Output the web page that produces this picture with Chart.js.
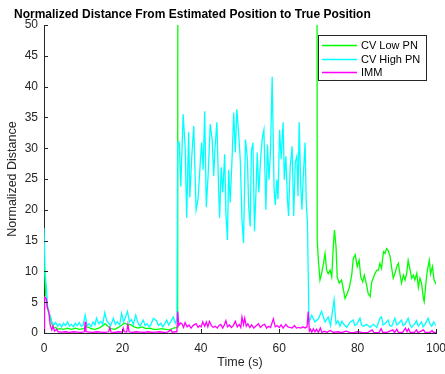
<!DOCTYPE html>
<html>
<head>
<meta charset="utf-8">
<script src="https://cdn.jsdelivr.net/npm/chart.js@4.4.1/dist/chart.umd.min.js"></script>
<style>
  html, body { margin: 0; padding: 0; background: #fff; }
  #wrap { width: 445px; height: 374px; }
</style>
</head>
<body>
<div id="wrap"><canvas id="plot" width="445" height="374"></canvas></div>
<script>
const xTicks = [0, 20, 40, 60, 80, 100]
const yTicks = [0, 5, 10, 15, 20, 25, 30, 35, 40, 45, 50]
const seriesNames = ['CV Low PN', 'CV High PN', 'IMM']
const seriesColors = ['#00ff00', '#00ffff', '#ff00ff']

// CV Low PN (green) - goes off the top of the axes between ~34 s and ~69 s
const tLow = [0,0.4,0.8,1.2,1.6,2,2.5,3,3.5,4,5,6,7,8,9,10,10.5,11.2,12,13,14,15,15.6,16.3,17,18,19,19.7,20.2,20.7,21.4,22,23,24,25,26,27,28,29,30,31,32,33,34.1,34.3,
  69.4,69.7,70,70.4,70.8,71.3,71.7,72.1,72.5,73,73.4,73.8,74.1,74.5,74.8,75.3,75.9,76.4,76.8,77.4,77.9,78.5,78.9,79.4,79.9,80.4,80.8,81.3,81.7,82.3,82.7,83.2,83.6,84,84.4,84.9,85.3,85.7,86.1,86.6,87,87.4,87.8,88.3,88.7,89.1,89.5,90,90.4,90.8,91.2,91.7,92.1,92.5,92.9,93.4,93.8,94.2,94.6,95.1,95.5,95.9,96.3,96.8,97,97.5,97.8,98.3,98.6,99.1,99.5,99.9,100]
const lowPN = [12,6.5,4.2,3.2,2.8,1.5,0.8,0.9,0.6,0.7,0.6,0.8,0.6,0.8,0.6,0.7,0.9,1.0,0.7,0.6,0.8,1.2,1.5,1.1,0.7,0.6,0.9,1.2,1.5,1.6,1.3,1.4,1.0,0.8,1.0,0.7,0.8,0.6,0.6,0.7,0.6,0.5,0.8,0.9,300,
  300,15,11.8,8.6,9.6,11.3,12.9,10.2,9.6,10.2,9.1,14,16.7,14,9.1,8.1,8.6,7.0,5.6,6.5,7.4,9.4,12.1,12.7,10.8,11.8,9.1,8.3,9.4,7.8,6.4,5.9,8.3,8.9,9.6,10.2,10.2,11.3,10.5,13.2,12.9,13.7,13.4,12.4,10.5,8.9,9.6,10.8,11.3,9.6,8.1,9.4,8.6,9.6,11.8,10.2,8.9,9.4,8.6,9.7,7.4,8.9,8.1,5.6,5.1,8.6,10.2,11.8,9.6,10.8,8.6,8.1,8.3]

// CV High PN (cyan)
const tHigh = [0,0.3,0.6,0.9,1.2,1.6,2,2.5,3,3.5,4,4.5,5,5.5,6,6.5,7,7.5,8,8.5,9,9.5,10,10.5,11,11.5,12,12.5,13,13.4,14,14.5,15,15.5,16,16.5,17,17.7,18.2,18.7,19.3,19.8,20.3,20.8,21.3,21.8,22.3,22.8,23.4,24,24.5,25.3,25.8,26.3,26.8,27.3,27.9,28.7,29.2,29.8,30.3,30.8,31.3,31.8,32.3,33,33.5,33.9,
  34.1,34.5,34.9,35.5,36,36.4,36.9,37.2,37.7,38.2,38.8,39.3,39.8,40.2,40.6,41,41.4,41.9,42.4,42.9,43.3,43.6,44.1,44.6,44.8,45.2,45.6,46.1,46.4,46.8,47.1,47.5,48,48.4,48.8,49.2,49.7,50.1,50.5,50.9,51.4,51.9,52.2,52.6,52.9,53.3,53.7,54.1,54.4,54.8,55.3,55.7,56.1,56.6,57,57.4,57.8,58.2,58.7,59,59.4,59.7,60.1,60.5,61,61.3,61.7,62.1,62.4,62.8,63.3,63.7,64.1,64.5,64.8,65.1,65.5,65.8,66.1,66.6,66.9,67.2,67.6,
  68.3,69.1,70,70.8,71.7,72.5,73.1,74,74.5,75,75.5,76,76.4,77.2,78.1,78.9,79.3,79.8,80.6,81,81.5,82.3,83.2,84,84.9,85.7,86.1,86.5,87,87.8,88.2,88.7,89.5,90,90.4,91.2,91.6,92.1,92.9,93.4,93.8,94.6,95,95.5,96.3,96.7,97.2,98,98.5,98.9,99.4,99.7,100]
const highPN = [17.1,9.5,7.5,4.5,3.3,2.6,1.8,1.3,1.7,1.1,1.5,1.0,1.6,1.2,1.8,1.1,1.4,1.0,1.6,1.2,1.7,1.1,1.3,2.9,1.2,1.5,1.0,1.8,1.3,2.4,1.5,1.9,1.4,3.3,2.0,1.6,1.2,2.4,1.4,1.8,1.3,3.2,1.8,2.6,3.5,1.8,2.2,1.4,2.9,1.6,1.1,2.1,1.2,1.5,1.0,1.4,2.4,2.0,1.2,1.6,1.0,1.5,2.1,1.3,1.8,2.6,1.6,2.2,
  31,31,23.8,35.5,30.3,18.7,32.6,22,28.7,33.6,20,21.7,27,30.9,26.5,36,20.4,26,33.9,31.4,25.5,29.8,34.2,22.2,18.7,26.9,22.8,29,19.5,15.1,26.5,21.2,28.7,35.8,29.3,36.3,32,27.7,18.4,14.6,31.4,28.2,20.6,17.3,29.5,30.9,16.5,23.3,29.3,22.8,28.7,31.7,33,20,30.6,24.9,29.8,41.6,23.3,20.8,24.9,21.7,33,28.2,34.2,24.9,28.7,21.7,19,27,30.3,19,27.7,28.7,22.2,34.2,23.8,20,24.9,30.9,21.2,18,1.8,
  2.9,1.8,2.3,3.5,1.8,2.6,1.2,5.4,1.5,2.0,1.1,1.9,1.5,0.9,1.8,2.1,1.2,1.4,2.4,1.3,1.1,1.4,0.9,1.4,0.9,2.4,2.6,1.3,1.5,2.1,1.2,1.1,2.4,1.3,1.5,2.1,1.2,1.4,2.4,1.3,0.9,1.5,2.0,1.1,1.8,1.0,1.4,2.4,1.4,1.1,1.8,1.5,1.2]

// IMM (magenta)
const tImm = [0,0.15,0.6,0.9,1.2,1.6,2,2.3,2.7,3.2,3.6,4.5,5.5,6.5,7.5,8.5,9.5,10.3,10.5,10.7,11.5,12.5,13.5,14.5,15.5,16.5,16.8,17.1,18,19,20,20.2,20.5,21.1,21.4,21.7,22.5,23.5,24.5,25.5,26.5,27.5,28.5,29.5,30.5,31.5,32.4,32.7,33.5,33.9,
  34.1,34.4,34.8,35.2,35.6,36,36.5,37,37.5,38,38.8,39.3,39.7,40.1,40.5,41,41.4,41.8,42.2,42.7,43.2,43.7,44.2,44.6,45.1,45.6,46,46.4,46.8,47.3,47.8,48.3,48.8,49.3,49.8,50.2,50.5,50.9,51.2,51.6,52,52.5,53,53.5,54,54.7,55.2,55.8,56.3,56.8,57.3,57.8,58.5,59,59.5,60,60.5,61,61.7,62.2,62.7,63.3,63.9,64.4,65,65.5,66.1,66.6,67.1,67.4,67.7,
  68,68.3,68.7,69.1,69.5,70,70.5,70.9,71.5,72.2,73,73.8,75,76,77,78,79,80,81,82.5,83.7,84.2,85.5,86,86.4,87.5,89,89.4,90,90.4,91.5,92.2,92.6,93,93.4,94.5,95,95.4,96.8,97.2,98.5,99,99.4,100]
const imm = [0,5.8,5.5,4.0,3.6,1.2,0.5,1.1,0.3,0.6,0.2,0.15,0.2,0.1,0.2,0.15,0.1,0.2,1.8,0.2,0.15,0.1,0.2,0.15,0.1,0.2,0.9,0.15,0.1,0.2,0.15,0.8,0.2,0.15,1.4,0.2,0.1,0.2,0.15,0.1,0.2,0.1,0.15,0.2,0.1,0.15,0.5,0.1,0.2,0.2,
  3.5,1.2,1.6,1.5,0.9,1.7,1.0,1.3,0.8,1.2,1.5,0.9,1.2,1.0,1.8,1.1,1.8,1.0,1.9,1.2,0.9,1.1,0.8,1.2,1.4,0.8,1.3,2.0,1.0,1.3,0.9,1.2,1.9,1.0,1.4,0.9,2.6,1.4,2.4,1.1,1.5,0.9,1.3,0.8,1.1,1.5,0.9,1.3,1.4,0.8,1.1,0.9,2.3,1.0,1.2,0.9,1.3,0.8,1.4,1.0,0.9,0.8,1.2,0.8,0.9,0.8,1.0,0.8,1.0,3.5,0.3,
  0.6,0.1,0.7,0.2,0.6,0.1,0.8,0.1,0.3,0.1,0.4,0.1,0.2,0.05,0.3,0.1,0.05,0.2,0.1,0.05,0.5,0.05,0.1,0.7,0.1,0.1,0.5,0.05,0.6,0.1,0.1,0.8,0.2,0.7,0.1,0.1,0.5,0.05,0.5,0.1,0.1,0.4,0.05,0.1]

const pts = (t, v) => t.map((x, i) => ({ x: x, y: v[i] }))
const axisColor = '#262626'
const fontFam = '"Liberation Sans", Arial, Helvetica, sans-serif'
const lineW = 1.3

// inward MATLAB-style tick marks
const tickMarks = {
	id: 'tickMarks',
	afterDraw(chart) {
		const ctx = chart.ctx
		const xs = chart.scales.x, ys = chart.scales.y
		const a = chart.chartArea
		ctx.save()
		ctx.strokeStyle = axisColor
		ctx.lineWidth = 1
		ctx.beginPath()
		xTicks.forEach(v => {
			const px = Math.round(xs.getPixelForValue(v)) + 0.5
			ctx.moveTo(px, a.bottom)
			ctx.lineTo(px, a.bottom - 4)
		})
		yTicks.forEach(v => {
			const py = Math.round(ys.getPixelForValue(v)) + 0.5
			ctx.moveTo(a.left, py)
			ctx.lineTo(a.left + 4, py)
		})
		ctx.stroke()
		ctx.restore()
	}
}

// title + boxed legend in the upper right
const decorations = {
	id: 'decorations',
	afterDraw(chart) {
		const ctx = chart.ctx
		ctx.save()
		ctx.fillStyle = '#000'
		ctx.font = 'bold 12px ' + fontFam
		ctx.textAlign = 'left'
		ctx.textBaseline = 'alphabetic'
		ctx.fillText('Normalized Distance From Estimated Position to True Position', 14, 18)

		const bx = 318.5, by = 35.5, bw = 108, bh = 45
		ctx.fillStyle = '#fff'
		ctx.fillRect(bx, by, bw, bh)
		ctx.lineWidth = 1
		ctx.strokeStyle = axisColor
		ctx.strokeRect(bx, by, bw, bh)
		ctx.font = '11px ' + fontFam
		ctx.textBaseline = 'middle'
		seriesNames.forEach((name, i) => {
			const y = Math.round(45 + i * 13.5) + 0.5
			ctx.lineWidth = lineW
			ctx.strokeStyle = seriesColors[i]
			ctx.beginPath()
			ctx.moveTo(322, y)
			ctx.lineTo(357, y)
			ctx.stroke()
			ctx.fillStyle = '#000'
			ctx.fillText(name, 361, y)
		})
		ctx.restore()
	}
}

const context = document.getElementById('plot').getContext('2d')

const myChart = new Chart(context, {
	type: 'line',
	data: {
		datasets: [{
			label: seriesNames[0],
			data: pts(tLow, lowPN),
			borderColor: seriesColors[0],
			borderWidth: lineW,
			order: 2
		}, {
			label: seriesNames[1],
			data: pts(tHigh, highPN),
			borderColor: seriesColors[1],
			borderWidth: lineW,
			order: 1
		}, {
			label: seriesNames[2],
			data: pts(tImm, imm),
			borderColor: seriesColors[2],
			borderWidth: lineW,
			order: 0
		}]
	},
	options: {
		responsive: false,
		animation: false,
		events: [],
		elements: { point: { radius: 0 }, line: { tension: 0, fill: false } },
		layout: { padding: { top: 25, right: 9, left: 0, bottom: 0 } },
		plugins: { legend: { display: false }, title: { display: false }, tooltip: { enabled: false } },
		scales: {
			x: {
				type: 'linear',
				position: 'bottom',
				min: 0,
				max: 100,
				afterBuildTicks: s => { s.ticks = xTicks.map(v => ({ value: v })) },
				afterFit: s => { s.height = 41; s.paddingLeft = 0; s.paddingRight = 0 },
				grid: { display: false, drawTicks: false },
				border: { display: true, color: axisColor, width: 1 },
				ticks: { padding: 8, color: axisColor, font: { family: fontFam, size: 12 }, maxRotation: 0 },
				title: { display: true, text: 'Time (s)', color: axisColor, font: { family: fontFam, size: 12.5 }, padding: { top: 0, bottom: 4 } }
			},
			y: {
				type: 'linear',
				position: 'left',
				min: 0,
				max: 50,
				afterBuildTicks: s => { s.ticks = yTicks.map(v => ({ value: v })) },
				afterFit: s => { s.width = 44; s.paddingTop = 0; s.paddingBottom = 0 },
				grid: { display: false, drawTicks: false },
				border: { display: true, color: axisColor, width: 1 },
				ticks: { padding: 6, color: axisColor, font: { family: fontFam, size: 12 } },
				title: { display: true, text: 'Normalized Distance', color: axisColor, font: { family: fontFam, size: 12.5 }, padding: { top: 5, bottom: 0 } }
			}
		}
	},
	plugins: [tickMarks, decorations]
})
</script>
</body>
</html>
